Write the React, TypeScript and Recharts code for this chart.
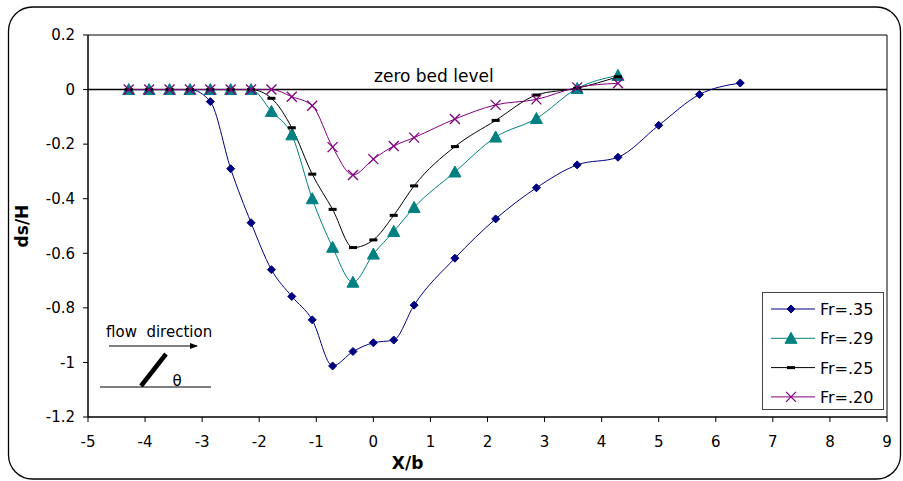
import React from "react";
import { LineChart, Line, XAxis, YAxis, ReferenceLine, ReferenceArea, Legend } from "recharts";

// X/b positions of the measuring points
const xFine = [-4.286, -3.929, -3.571, -3.214, -2.857, -2.5, -2.143, -1.786, -1.429, -1.071, -0.714, -0.357, 0, 0.357, 0.714, 1.429, 2.143, 2.857, 3.571, 4.286];
const xFr35 = [...xFine, 5, 5.714, 6.429];

// ds/H for each Froude number
const fr35 = [0, 0, 0, 0, -0.044, -0.29, -0.488, -0.66, -0.758, -0.844, -1.013, -0.96, -0.928, -0.918, -0.79, -0.618, -0.474, -0.36, -0.276, -0.248, -0.131, -0.018, 0.024];
const fr29 = [0, 0, 0, 0, 0, 0, 0, -0.08, -0.166, -0.4, -0.578, -0.706, -0.603, -0.52, -0.432, -0.302, -0.174, -0.106, 0.004, 0.052];
const fr25 = [0, 0, 0, 0, 0, 0, 0, -0.032, -0.14, -0.31, -0.439, -0.579, -0.551, -0.461, -0.353, -0.209, -0.113, -0.02, 0.005, 0.047];
const fr20 = [0, 0, 0, 0, 0, 0, 0, 0, -0.026, -0.059, -0.211, -0.313, -0.255, -0.207, -0.176, -0.108, -0.056, -0.036, 0.008, 0.023];

const xTicks = [-5, -4, -3, -2, -1, 0, 1, 2, 3, 4, 5, 6, 7, 8, 9];
const yTicks = [0.2, 0, -0.2, -0.4, -0.6, -0.8, -1, -1.2];

const FONT = "'DejaVu Sans', sans-serif";

const toRows = (xs: number[], ys: number[]) => xs.map((x, i) => ({ x, y: ys[i] }));

type Shape = "diamond" | "triangle" | "dash" | "cross";

const series: { name: string; color: string; shape: Shape; rows: { x: number; y: number }[] }[] = [
  { name: "Fr=.35", color: "#000080", shape: "diamond", rows: toRows(xFr35, fr35) },
  { name: "Fr=.29", color: "#008080", shape: "triangle", rows: toRows(xFine, fr29) },
  { name: "Fr=.25", color: "#000000", shape: "dash", rows: toRows(xFine, fr25) },
  { name: "Fr=.20", color: "#800080", shape: "cross", rows: toRows(xFine, fr20) },
];

function Marker({ shape, cx, cy, color }: { shape: Shape; cx: number; cy: number; color: string }) {
  if (shape === "diamond") {
    const s = 4;
    return <polygon points={`${cx},${cy - s} ${cx + s},${cy} ${cx},${cy + s} ${cx - s},${cy}`} fill={color} stroke={color} />;
  }
  if (shape === "triangle") {
    return <polygon points={`${cx},${cy - 6} ${cx + 6},${cy + 5} ${cx - 6},${cy + 5}`} fill={color} stroke={color} />;
  }
  if (shape === "dash") {
    return <rect x={cx - 4} y={cy - 1.5} width={8} height={3} fill={color} />;
  }
  const s = 5;
  return (
    <g stroke={color} strokeWidth={1.3}>
      <line x1={cx - s} y1={cy - s} x2={cx + s} y2={cy + s} />
      <line x1={cx - s} y1={cy + s} x2={cx + s} y2={cy - s} />
    </g>
  );
}

const renderLegend = () => (
  <div style={{ width: 122, height: 118, border: "1px solid #444", background: "#fff", boxSizing: "border-box" }}>
    <svg width={120} height={116} style={{ display: "block" }}>
      {series.map((s, i) => {
        const y = 16 + i * 29.3;
        return (
          <g key={s.name}>
            <line x1={8} x2={52} y1={y} y2={y} stroke={s.color} strokeWidth={1} />
            <Marker shape={s.shape} cx={28} cy={y} color={s.color} />
            <text x={57} y={y + 6} fontFamily={FONT} fontSize={16} fill="#000">
              {s.name}
            </text>
          </g>
        );
      })}
    </svg>
  </div>
);

export default function App() {
  return (
    <div style={{ position: "absolute", left: 0, top: 0, width: 903, height: 481, background: "#fff" }}>
      <LineChart width={903} height={481} margin={{ top: 35, right: 16, bottom: 34, left: 0 }}>
        <XAxis
          dataKey="x"
          type="number"
          domain={[-5, 9]}
          ticks={xTicks}
          allowDataOverflow
          interval={0}
          height={30}
          tickSize={5}
          tickMargin={14}
          axisLine={{ stroke: "#000" }}
          tickLine={{ stroke: "#000" }}
          tick={{ fill: "#000", fontSize: 15, fontFamily: FONT }}
          label={({ viewBox }: any) => (
            <text x={viewBox.x + viewBox.width * 0.4} y={469} textAnchor="middle" fontFamily={FONT} fontSize={17} fontWeight="bold" fill="#000">
              X/b
            </text>
          )}
        />
        <YAxis
          type="number"
          domain={[-1.2, 0.2]}
          ticks={yTicks}
          allowDataOverflow
          interval={0}
          width={88}
          tickSize={5}
          tickMargin={8}
          axisLine={{ stroke: "#000" }}
          tickLine={{ stroke: "#000" }}
          tick={{ fill: "#000", fontSize: 15, fontFamily: FONT }}
          label={({ viewBox }: any) => (
            <text x={28} y={viewBox.y + viewBox.height / 2} transform={`rotate(-90 28 ${viewBox.y + viewBox.height / 2})`} textAnchor="middle" fontFamily={FONT} fontSize={17} fontWeight="bold" fill="#000">
              ds/H
            </text>
          )}
        />
        <ReferenceArea x1={-5} x2={9} y1={-1.2} y2={0.2} fill="none" stroke="#000" strokeWidth={1} />
        <ReferenceLine
          y={0}
          stroke="#000"
          strokeWidth={1.5}
          label={({ viewBox }: any) => (
            <text x={viewBox.x + 286} y={viewBox.y - 8} fontFamily={FONT} fontSize={17} fill="#000">
              zero bed level
            </text>
          )}
        />
        {series.map((s) => (
          <Line
            key={s.name}
            data={s.rows}
            dataKey="y"
            name={s.name}
            type="monotone"
            stroke={s.color}
            strokeWidth={1}
            isAnimationActive={false}
            dot={(p: any) => <Marker key={`${s.name}-${p.index}`} shape={s.shape} cx={p.cx} cy={p.cy} color={s.color} />}
            activeDot={false}
          />
        ))}
        <Legend
          layout="vertical"
          align="center"
          verticalAlign="middle"
          content={renderLegend}
          wrapperStyle={{ left: 762, top: 292, width: 122, height: 118 }}
        />
      </LineChart>
      <svg width={903} height={481} style={{ position: "absolute", left: 0, top: 0, pointerEvents: "none" }}>
        <rect x={8.5} y={7} width={892} height={472} rx={24} fill="none" stroke="#000" strokeWidth={1.3} />
        <text x={106} y={337} fontFamily={FONT} fontSize={15} fill="#000" style={{ whiteSpace: "pre" }}>
          flow  direction
        </text>
        <defs>
          <marker id="arrowhead" markerWidth="8" markerHeight="6" refX="7" refY="3" orient="auto" markerUnits="userSpaceOnUse">
            <polygon points="0,0 8,3 0,6" fill="#000" />
          </marker>
        </defs>
        <line x1={109} y1={346} x2={197} y2={346} stroke="#000" strokeWidth={1.2} markerEnd="url(#arrowhead)" />
        <line x1={100} y1={387} x2={211} y2={387} stroke="#000" strokeWidth={1.2} />
        <line x1={141} y1={386} x2={166} y2={354} stroke="#000" strokeWidth={4.5} />
        <text x={177} y={386} textAnchor="middle" fontFamily={FONT} fontSize={15} fill="#000">
          θ
        </text>
      </svg>
    </div>
  );
}
